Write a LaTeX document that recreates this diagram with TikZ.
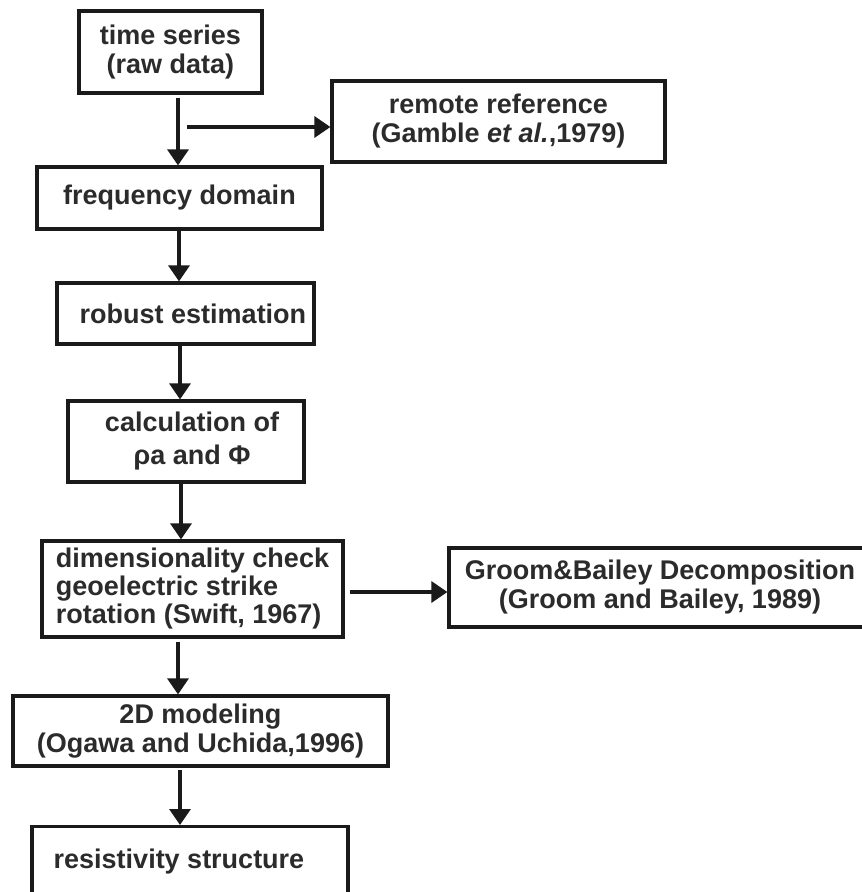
\documentclass[tikz,border=0pt]{standalone}
\usepackage{fontspec}
\setmainfont{Liberation Sans}
\usetikzlibrary{arrows.meta}
\definecolor{ink}{HTML}{1A1A1A}
\definecolor{txt}{HTML}{2B2B2B}
\begin{document}
\begin{tikzpicture}[x=1pt,y=-1pt,
  box/.style={draw=ink,line width=3.2pt,inner sep=0pt,align=center,text=txt,
    font=\fontsize{27}{29}\selectfont\bfseries},
  arr/.style={draw=ink,line width=3.2pt,-{Triangle[width=21pt,length=16pt]}}]
\useasboundingbox (0,0) rectangle (862,892);
\clip (0,0) rectangle (862,892);
\fill[white] (0,0) rectangle (862,892);
\node[box,minimum width=183pt,minimum height=82pt] (ts) at (170.5,52) {time series\\(raw data)};
\node[box,minimum width=333pt,minimum height=81pt] (rr) at (498.5,121.5) {remote reference\\(Gamble \textit{et al.},1979)};
\node[box,minimum width=285pt,minimum height=62pt] (fd) at (179.5,198) {frequency domain};
\node[box,minimum width=257pt,minimum height=61pt] (re) at (185.5,313.5) {\hspace*{15pt}robust estimation};
\node[box,minimum width=236pt,minimum height=81pt,font=\fontsize{27}{33}\selectfont\bfseries] (ca) at (186,441.5) {\hspace*{12pt}calculation of\\\hspace*{12pt}ρa and Φ};
\node[box,minimum width=301pt,minimum height=96pt,font=\fontsize{27}{28}\selectfont\bfseries,align=left] (dc) at (192.5,589) {dimensionality check\\geoelectric strike\\rotation (Swift, 1967)};
\node[box,minimum width=422pt,minimum height=79pt] (gb) at (660,587.5) {Groom\&Bailey Decomposition\\(Groom and Bailey, 1989)};
\node[box,minimum width=375pt,minimum height=70pt,font=\fontsize{27}{28.5}\selectfont\bfseries] (md) at (200.5,731) {2D modeling\\(Ogawa and Uchida,1996)};
\node[box,minimum width=316pt,minimum height=70pt,anchor=north] (rs) at (190,825) {\raisebox{6pt}{resistivity structure\hspace*{22pt}}};
\draw[arr] ([xshift=7.5pt,yshift=-3pt]ts.south) -- ([xshift=-1.5pt]fd.north);
\coordinate (s2) at (187,127);
\draw[arr] (s2) -- (s2 -| rr.west);
\draw[arr] ([xshift=-0.5pt]fd.south) -- ([xshift=-6.5pt]re.north);
\draw[arr] ([xshift=-5.5pt]re.south) -- ([xshift=-6pt]ca.north);
\draw[arr] ([xshift=-5pt]ca.south) -- ([xshift=-11.5pt]dc.north);
\coordinate (s7) at ([xshift=5pt,yshift=-3pt]dc.east);
\draw[arr] (s7) -- (s7 -| gb.west);
\draw[arr] ([xshift=-14.5pt,yshift=-3pt]dc.south) -- ([xshift=-22.5pt]md.north);
\draw[arr] ([xshift=-20.5pt,yshift=-2pt]md.south) -- ([xshift=-10pt]rs.north);
\end{tikzpicture}
\end{document}
